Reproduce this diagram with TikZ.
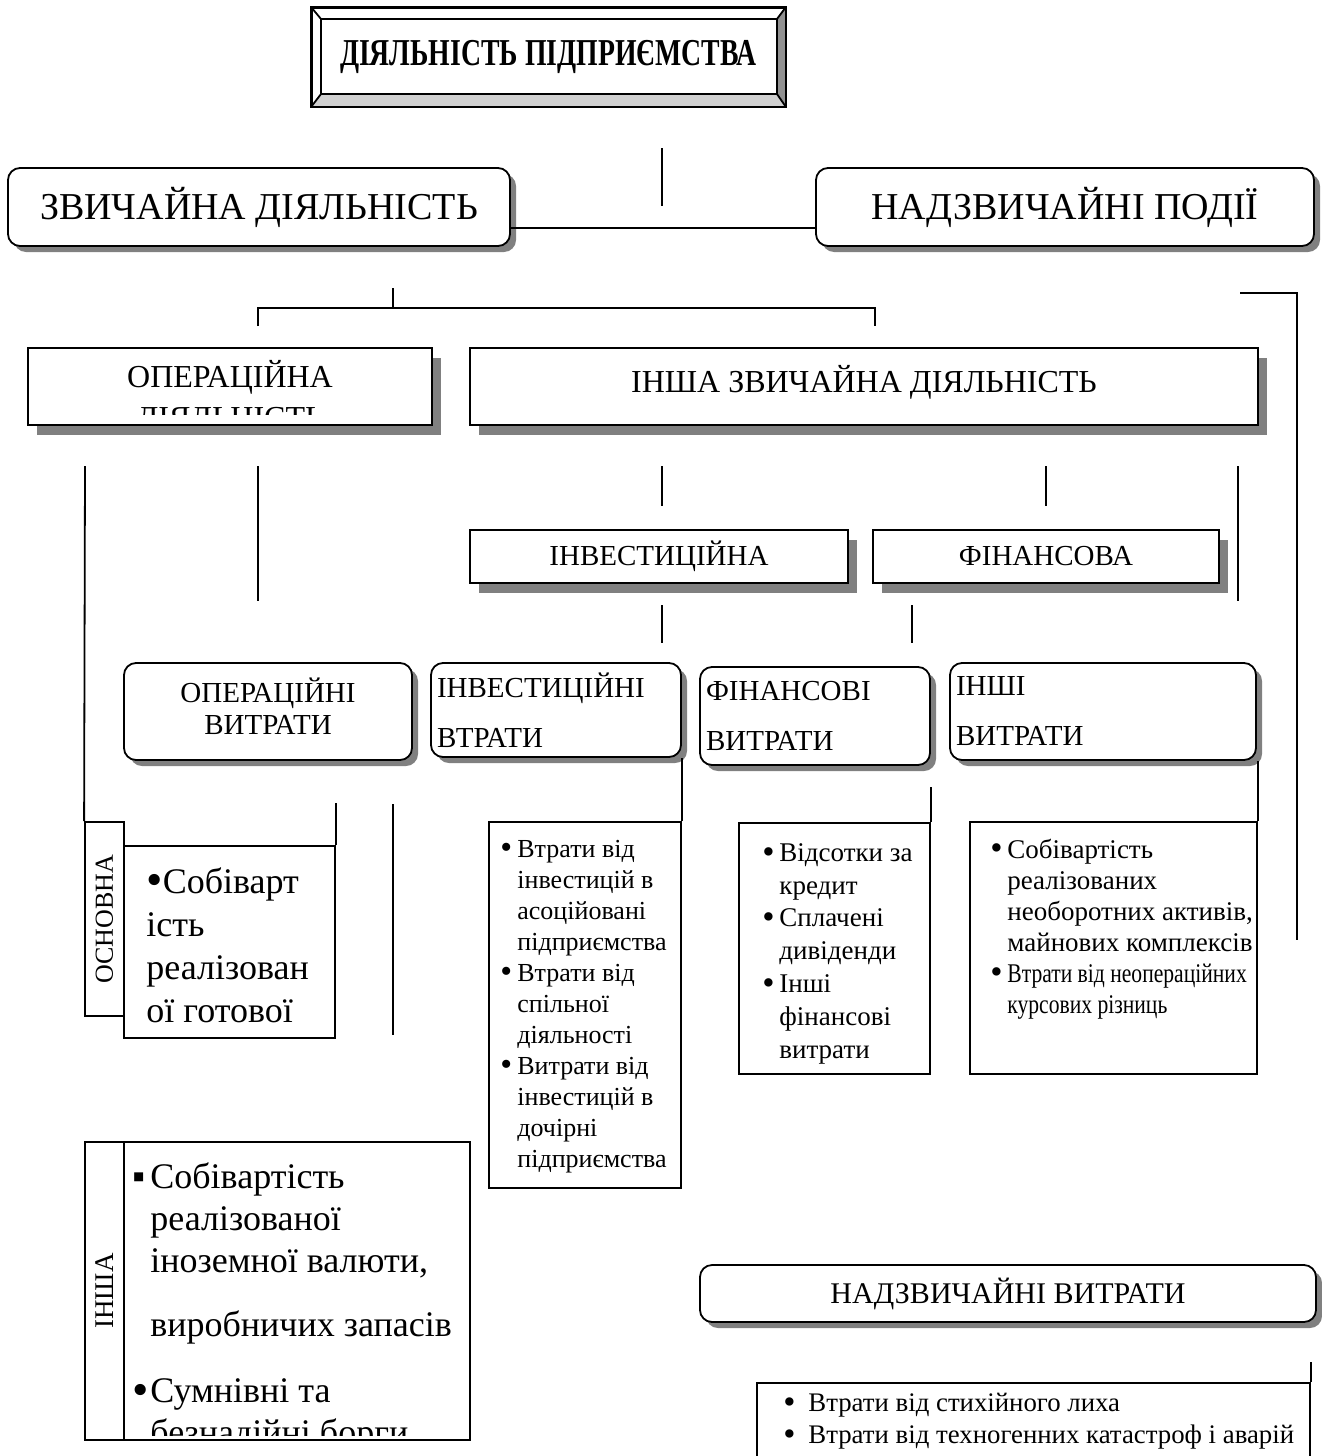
\documentclass[tikz,border=0pt]{standalone}
\usepackage{fontspec}
\setmainfont{Liberation Serif}
\usepackage{graphicx}
\usetikzlibrary{shadows, calc}
\definecolor{ShadowGray}{RGB}{128, 128, 128}
\definecolor{BevelDark}{RGB}{145, 145, 145}
\definecolor{BevelLight}{RGB}{208, 208, 208}
\newcommand{\bigdot}{\raisebox{-0.15ex}{\scalebox{1.3}{\textbullet}}}
\newcommand{\bul}[1][8.5pt]{\makebox[#1][l]{\bigdot}}
\newcommand{\ind}[1][8.5pt]{\hspace*{#1}}

\begin{document}
\begin{tikzpicture}[x=0.5pt, y=-0.5pt,
  link/.style={line width=0.9pt},
  rbox/.style={draw, line width=0.9pt, fill=white, rounded corners=6pt, inner sep=0pt,
    drop shadow={shadow xshift=3pt, shadow yshift=-3pt, fill=ShadowGray, opacity=1}},
  sbox/.style={draw, line width=0.9pt, fill=white, inner sep=0pt,
    drop shadow={shadow xshift=4.5pt, shadow yshift=-5pt, fill=ShadowGray, opacity=1}},
  lbox/.style={draw, line width=0.9pt, fill=white, inner sep=0pt},
  txt/.style={inner sep=0pt, align=left, anchor=north west}]
  \useasboundingbox (0,0) rectangle (1322,1456);
  \clip (0,0) rectangle (1322,1456);

  % loose line pieces
  \foreach \n/\x/\a/\b in {ta/662/148/206, ob/258/466/601, ia/662/466/506, fa/1046/466/506,
      ra/1238/466/601, ib/662/605/643, fb/912/605/643, ob2/393/804/1035} {
    \coordinate (\n-a) at (\x,\a);
    \coordinate (\n-b) at (\x,\b);
    \draw[link] (\n-a) -- (\n-b);
  }
  \coordinate (br-top) at (393,288);
  \coordinate (br-l) at (258,326);
  \coordinate (br-r) at (875,326);
  \draw[link] (br-top) -- (br-top |- 0,308);
  \draw[link] (br-l) -- (br-l |- 0,308) -- (br-r |- 0,308) -- (br-r);
  \coordinate (nd-a) at (1240,293);
  \coordinate (nd-b) at (1297,940);
  \draw[link] (nd-a) -- (nd-a -| nd-b) -- (nd-b);
  \coordinate (osn-top) at (85,466);

  % title
  \node[draw, line width=0.9pt, minimum width=236.5pt, minimum height=49pt, inner sep=0pt]
    (title) at (548.5,57) {\raisebox{-4pt}[0pt][0pt]{\fontsize{19}{22}\selectfont\bfseries\scalebox{0.73}[1]{ДІЯЛЬНІСТЬ ПІДПРИЄМСТВА}}};
  \coordinate (tin-nw) at ($(title.north west)+(10,12)$);
  \coordinate (tin-se) at ($(title.south east)+(-9,-13)$);
  \fill[BevelDark] (title.north east) -- (tin-nw -| tin-se) -- (tin-se) -- (title.south east) -- cycle;
  \fill[BevelLight] (title.south west) -- (tin-nw |- tin-se) -- (tin-se) -- (title.south east) -- cycle;
  \draw[link] (tin-nw) rectangle (tin-se);
  \draw[link] (title.north west) rectangle (title.south east);
  \draw[link] (title.north west) -- (tin-nw);
  \draw[link] (title.south east) -- (tin-se);
  \draw[link] (title.north east) -- (tin-nw -| tin-se);
  \draw[link] (title.south west) -- (tin-nw |- tin-se);

  % first level
  \node[rbox, minimum width=251pt, minimum height=39pt, font=\fontsize{19}{22}\selectfont]
    (zv) at (259,207) {ЗВИЧАЙНА ДІЯЛЬНІСТЬ};
  \node[rbox, minimum width=249pt, minimum height=39pt, font=\fontsize{19}{22}\selectfont]
    (nad) at (1065,207) {НАДЗВИЧАЙНІ ПОДІЇ};
  \draw[link] ($(zv.east)+(0,21)$) -- ($(nad.west)+(0,21)$);

  % second level
  \node[sbox, minimum width=202pt, minimum height=38.5pt] (oper) at (230,386.5) {};
  \begin{scope}
    \clip (oper.north west) rectangle ($(oper.south east)+(0,-11)$);
    \node[inner sep=0pt, align=center, anchor=north, font=\fontsize{16}{20.5}\selectfont]
      (oper-t) at (230,360) {ОПЕРАЦІЙНА\\ДІЯЛЬНІСТЬ};
  \end{scope}
  \node[sbox, minimum width=394pt, minimum height=38.5pt, font=\fontsize{16}{20}\selectfont]
    (insha) at (864,386.5) {\raisebox{-2.75pt}[0pt][0pt]{ІНША ЗВИЧАЙНА ДІЯЛЬНІСТЬ}};

  \node[sbox, minimum width=189pt, minimum height=26.5pt, font=\fontsize{14.5}{17}\selectfont]
    (invest) at (659,556.5) {ІНВЕСТИЦІЙНА};
  \node[sbox, minimum width=173pt, minimum height=26.5pt, font=\fontsize{14.5}{17}\selectfont]
    (finans) at (1046,556.5) {ФІНАНСОВА};

  % expenses
  \node[rbox, minimum width=144pt, minimum height=48.5pt, align=center, font=\fontsize{14.5}{16}\selectfont]
    (opvyt) at (268,711.5) {ОПЕРАЦІЙНІ\\ВИТРАТИ\rule[-5pt]{0pt}{5pt}};
  \node[rbox, minimum width=125pt, minimum height=47pt, inner xsep=3pt, text width=119pt, align=left,
    font=\fontsize{14.5}{25}\selectfont] (invvt) at (556,710) {ІНВЕСТИЦІЙНІ\\ВТРАТИ};
  \node[rbox, minimum width=115pt, minimum height=49pt, inner xsep=3pt, text width=109pt, align=left,
    font=\fontsize{14.5}{25}\selectfont] (finvt) at (815,716) {ФІНАНСОВІ\\ВИТРАТИ};
  \node[rbox, minimum width=153pt, minimum height=48.5pt, inner xsep=3pt, text width=147pt, align=left,
    font=\fontsize{14.5}{25}\selectfont] (inshvt) at (1103,711.5) {ІНШІ\\ВИТРАТИ};

  % main operating
  \node[lbox, minimum width=19.5pt, minimum height=97pt, font=\fontsize{13}{15}\selectfont]
    (osnlab) at (104.5,919) {\rotatebox{90}{ОСНОВНА}};
  \node[lbox, minimum width=105.5pt, minimum height=96pt] (osnlist) at (229.5,942) {};
  \begin{scope}
    \clip (osnlist.north west) rectangle (osnlist.south east);
    \node[txt, font=\fontsize{18}{21.5}\selectfont] (osn-t) at (146,863)
      {\strut\bigdot Собіварт\\ість\\реалізован\\ої готової};
  \end{scope}
  \draw[link] (osn-top) -- (osnlab.north west);
  \coordinate (osn-up) at ($(osnlist.north east)+(0,-42)$);
  \draw[link] (osnlist.north east) -- (osn-up);

  % investment list
  \node[lbox, minimum width=96pt, minimum height=183pt] (invlist) at (585,1005) {};
  \node[txt, font=\fontsize{13}{15.5}\selectfont] (inv-t) at (500,835)
    {\strut\bul Втрати від\\\ind інвестицій в\\\ind асоційовані\\\ind підприємства\\
     \bul Втрати від\\\ind спільної\\\ind діяльності\\
     \bul Витрати від\\\ind інвестицій в\\\ind дочірні\\\ind підприємства};
  \draw[link] (invlist.north east) -- (invlist.north east |- invvt.south);

  % financial list
  \node[lbox, minimum width=95.5pt, minimum height=125.5pt] (finlist) at (834.5,948.5) {};
  \node[txt, font=\fontsize{13.5}{16.4}\selectfont] (fin-t) at (762,838)
    {\strut\bul Відсотки за\\\ind кредит\\\bul Сплачені\\\ind дивіденди\\
     \bul Інші\\\ind фінансові\\\ind витрати};
  \coordinate (fin-up) at ($(finlist.north east)+(0,-35)$);
  \draw[link] (finlist.north east) -- (fin-up);

  % other list
  \node[lbox, minimum width=143.5pt, minimum height=126pt] (inshlist) at (1113.5,948) {};
  \node[txt, font=\fontsize{13.5}{15.5}\selectfont] (insh-t) at (990,836)
    {\strut\bul Собівартість\\\ind реалізованих\\\ind необоротних активів,\\\ind майнових комплексів\\
     \bul\scalebox{0.8}[1]{Втрати від неопераційних}\\\ind\scalebox{0.8}[1]{курсових різниць}};
  \draw[link] (inshlist.north east) -- (inshlist.north east |- inshvt.south);

  % other operating
  \node[lbox, minimum width=19.5pt, minimum height=149pt, font=\fontsize{13.5}{15}\selectfont]
    (inshalab) at (104.5,1291) {\rotatebox{90}{ІНША}};
  \node[lbox, minimum width=173pt, minimum height=149pt] (inshacont) at (297,1291) {};
  \begin{scope}
    \clip (inshacont.north west) rectangle ($(inshacont.south east)+(0,-5)$);
    \node[txt, font=\fontsize{18}{21}\selectfont] (insha-t) at (132,1159)
      {\strut\makebox[9pt][l]{▪}Собівартість\\\ind[9pt]реалізованої\\\ind[9pt]іноземної валюти,\\[11pt]
       \ind[9pt]виробничих запасів\\[12pt]\bul[9pt]Сумнівні та\\\ind[9pt]безнадійні борги};
  \end{scope}

  % extraordinary
  \node[rbox, minimum width=308pt, minimum height=28.5pt, font=\fontsize{15}{18}\selectfont]
    (nadvt) at (1008,1293.5) {НАДЗВИЧАЙНІ ВИТРАТИ};
  \node[lbox, minimum width=276.5pt, minimum height=45pt] (nadlist) at (1033.5,1428) {};
  \node[txt, font=\fontsize{13.4}{16}\selectfont] (nad-t) at (783,1389)
    {\strut\bul[12.5pt]Втрати від стихійного лиха\\\bul[12.5pt]Втрати від техногенних катастроф і аварій};
  \coordinate (nad-up) at ($(nadlist.north east)+(0,-20)$);
  \draw[link] (nadlist.north east) -- (nad-up);
\end{tikzpicture}
\end{document}
